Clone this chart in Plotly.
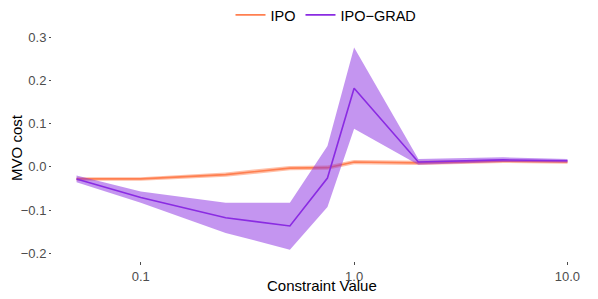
import plotly.graph_objects as go
import numpy as np

x = [0.05, 0.1, 0.25, 0.5, 0.75, 1.0, 2.0, 5.0, 10.0]

ipo_mean = [-0.028, -0.028, -0.018, -0.003, -0.002, 0.011, 0.009, 0.013, 0.011]
ipo_lo = [-0.032, -0.032, -0.023, -0.008, -0.007, 0.006, 0.004, 0.009, 0.007]
ipo_hi = [-0.024, -0.024, -0.013, 0.002, 0.003, 0.016, 0.014, 0.017, 0.015]

grad_mean = [-0.028, -0.071, -0.118, -0.137, -0.026, 0.182, 0.011, 0.016, 0.014]
grad_lo = [-0.036, -0.083, -0.153, -0.192, -0.093, 0.088, 0.005, 0.011, 0.010]
grad_hi = [-0.020, -0.057, -0.083, -0.083, 0.048, 0.276, 0.018, 0.022, 0.018]

x_ticks = [0.1, 1.0, 10.0]
x_tick_labels = ["0.1", "1.0", "10.0"]
y_ticks = [-0.2, -0.1, 0.0, 0.1, 0.2, 0.3]
y_tick_labels = ["\u22120.2", "\u22120.1", "0.0", "0.1", "0.2", "0.3"]

ORANGE = "#FF7F50"
PURPLE = "#8A2BE2"

fig = go.Figure()


def add_series(name, mean, lo, hi, color, fill, rank):
    fig.add_trace(go.Scatter(x=x, y=hi, mode="lines", line=dict(width=0, color=color),
                             showlegend=False, hoverinfo="skip"))
    fig.add_trace(go.Scatter(x=x, y=lo, mode="lines", line=dict(width=0, color=color),
                             fill="tonexty", fillcolor=fill, showlegend=False, hoverinfo="skip"))
    fig.add_trace(go.Scatter(x=x, y=mean, mode="lines", name=name, legendrank=rank,
                             line=dict(color=color, width=1.6)))


add_series("IPO", ipo_mean, ipo_lo, ipo_hi, ORANGE, "rgba(255,127,80,0.5)", 1)
add_series("IPO\u2212GRAD", grad_mean, grad_lo, grad_hi, PURPLE, "rgba(138,43,226,0.5)", 2)

lx0, lx1 = np.log10(0.05), np.log10(10.0)
pad = (lx1 - lx0) * 0.05

# the page body adds an 8px margin, so the figure is 8px smaller than the window
fig.update_layout(
    width=590, height=291,
    margin=dict(l=44, r=6, t=27, b=38),
    paper_bgcolor="white", plot_bgcolor="white",
    font=dict(family="Liberation Sans, Arial, sans-serif", color="black", size=15),
    legend=dict(orientation="h", traceorder="normal",
                x=0.539, xref="container", xanchor="center",
                y=0.976, yref="container", yanchor="middle",
                font=dict(size=14.5), itemwidth=30, tracegroupgap=0,
                bgcolor="rgba(0,0,0,0)"),
    xaxis=dict(type="log", range=[lx0 - pad, lx1 + pad], tickvals=x_ticks,
               ticktext=x_tick_labels, showgrid=False, zeroline=False, showline=False,
               automargin=False,
               ticks="outside", ticklen=3, tickcolor="#4D4D4D", tickwidth=0.6,
               tickfont=dict(size=13, color="#4D4D4D")),
    yaxis=dict(range=[-0.218, 0.305], tickvals=y_ticks, ticktext=y_tick_labels,
               showgrid=False, zeroline=False, showline=False,
               automargin=False,
               ticks="outside", ticklen=2, tickcolor="#4D4D4D", tickwidth=0.6,
               tickfont=dict(size=13, color="#4D4D4D"),
               title=dict(text="MVO cost", standoff=0, font=dict(size=15))),
    annotations=[dict(text="Constraint Value", xref="paper", yref="paper",
                      x=0.5, y=-0.108, xanchor="center", yanchor="middle",
                      showarrow=False, font=dict(size=15, color="black"))],
)

fig.write_html("out.html")
